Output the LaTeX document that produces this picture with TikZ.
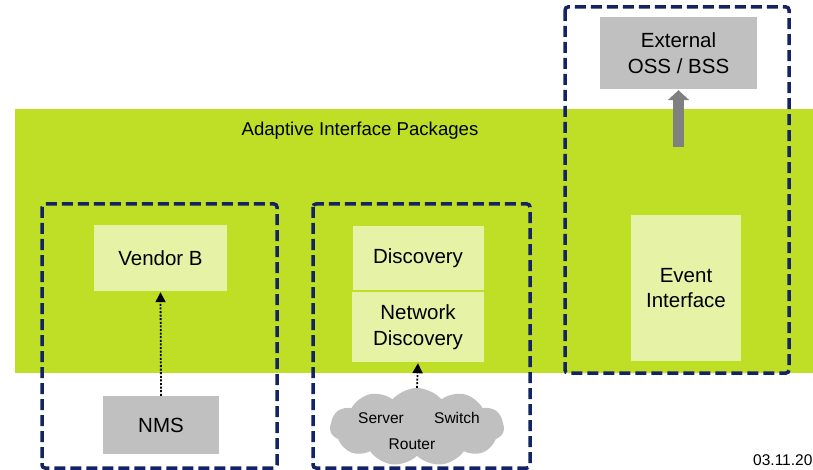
\documentclass[tikz,border=0pt]{standalone}
\usepackage{fontspec}
\setmainfont{Liberation Sans}
\usetikzlibrary{arrows.meta,shapes.symbols}
\definecolor{bandgreen}{RGB}{191,223,38}
\definecolor{palegreen}{RGB}{230,242,166}
\definecolor{boxgray}{RGB}{192,192,192}
\definecolor{framenavy}{RGB}{20,35,100}
\definecolor{arrowgray}{RGB}{128,128,128}
\tikzset{
	pkgbox/.style={fill=palegreen, inner sep=0pt, align=center, font=\fontsize{20.5}{25.5}\selectfont},
	sysbox/.style={fill=boxgray, inner sep=0pt, align=center, font=\fontsize{20.5}{25.5}\selectfont},
	frame/.style={draw=framenavy, line width=3.5pt, dash pattern=on 11pt off 5pt, rounded corners=3pt},
	dotarrow/.style={line width=1.8pt, dash pattern=on 2pt off 1.6pt, -{Triangle[length=10pt,width=10pt]}, shorten >=1pt},
	bigarrow/.style={draw=arrowgray, line width=11pt, -{Triangle[length=10pt,width=21pt]}, shorten >=1pt},
	cloudword/.style={font=\fontsize{15.5}{18}\selectfont, inner sep=0pt}
}

\begin{document}
\begin{tikzpicture}[x=1pt, y=-1pt]
		%%%%% START %%%%%
		\useasboundingbox (0, 0) rectangle (813, 470);
		
		\fill[bandgreen] (15, 109) rectangle (813, 373);
		\node[font=\fontsize{18.6}{22}\selectfont] (header) at (360, 131) {Adaptive Interface Packages};
		
		\node[pkgbox, minimum width=133pt, minimum height=66pt] (vendorb) at (160.5, 258) {Vendor B};
		\node[sysbox, minimum width=116pt, minimum height=58pt] (nms) at (161, 425) {NMS};
		\draw[dotarrow] (nms.north) -- (vendorb.south);
		
		\node[pkgbox, minimum width=131pt, minimum height=64pt] (discovery) at (418, 258) {Discovery};
		\node[pkgbox, minimum width=132pt, minimum height=70pt] (netdisc) at (418, 327) {Network\\Discovery};
		\node[cloud, cloud puffs=11, cloud puff arc=100, fill=boxgray, inner sep=0pt,
			minimum width=174pt, minimum height=78pt] (net) at (417, 427) {};
		\node[cloudword] (server) at (381, 418) {Server};
		\node[cloudword] (switch) at (457, 418) {Switch};
		\node[cloudword] (router) at (412, 444) {Router};
		\draw[dotarrow] (net.north) -- (netdisc.south);
		
		\node[pkgbox, minimum width=110pt, minimum height=146pt] (event) at (686, 288) {Event\\Interface};
		\node[sysbox, minimum width=157pt, minimum height=72pt] (external) at (678.5, 53) {External\\OSS / BSS};
		\coordinate (eventout) at (678.5, 147);
		\draw[bigarrow] (eventout) -- (external.south);
		
		\draw[frame] (42, 204) rectangle (277, 468);
		\draw[frame] (313, 204) rectangle (530, 468);
		\draw[frame] (565, 7) rectangle (789, 373);
		
		\node[anchor=base west, font=\fontsize{15.5}{18}\selectfont, inner sep=0pt] (date) at (753, 465) {03.11.20};
		%%%%% END %%%%%
	\end{tikzpicture}
\end{document}
